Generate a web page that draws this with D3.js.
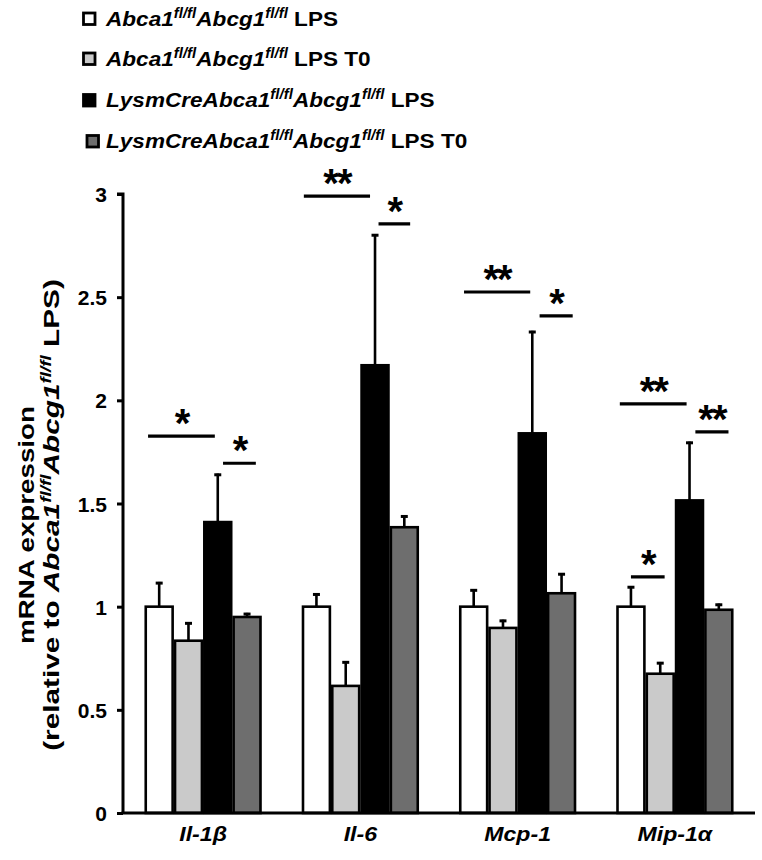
<!DOCTYPE html>
<html><head><meta charset="utf-8">
<script src="https://cdn.jsdelivr.net/npm/d3@7"></script>
<style>body{margin:0;background:#fff}svg{display:block;font-family:"Liberation Sans",Arial,sans-serif}</style>
</head><body><svg id="c" width="762" height="860"></svg>
<script>
const categories = ["Il-1β", "Il-6", "Mcp-1", "Mip-1α"];
const seriesKeys = ["wtLPS", "wtLPST0", "koLPS", "koLPST0"];
const seriesFills = ["#ffffff", "#cacaca", "#000000", "#6e6e6e"];
const wtLPS = [1.0, 1.0, 1.0, 1.0];
const wtLPST0 = [0.835, 0.616, 0.897, 0.675];
const koLPS = [1.41, 2.17, 1.84, 1.515];
const koLPST0 = [0.95, 1.385, 1.065, 0.985];
const wtLPSErr = [0.12, 0.065, 0.085, 0.10];
const wtLPST0Err = [0.09, 0.12, 0.04, 0.057];
const koLPSErr = [0.235, 0.636, 0.497, 0.285];
const koLPST0Err = [0.02, 0.058, 0.098, 0.03];
const yTicks = [0, 0.5, 1, 1.5, 2, 2.5, 3];
const yTickLabels = ["0", "0.5", "1", "1.5", "2", "2.5", "3"];
// significance annotations: category, from/to in bar-index units, y value, label
const sigCat = [0, 0, 1, 1, 2, 2, 3, 3, 3];
const sigFrom = [0.12, 2.68, 0.07, 2.62, 0.17, 2.75, 0.12, 2.7, 0.5];
const sigTo = [2.4, 3.8, 2.33, 3.7, 2.43, 3.88, 2.4, 3.83, 1.65];
const sigY = [1.827, 1.695, 2.99, 2.855, 2.525, 2.409, 1.983, 1.847, 1.144];
const sigLabel = ["*", "*", "**", "*", "**", "*", "**", "**", "*"];
const legendPrefix = ["", "", "LysmCre", "LysmCre"];
const legendSuffix = [" LPS", " LPS T0", " LPS", " LPS T0"];

const values = [wtLPS, wtLPST0, koLPS, koLPST0];
const errors = [wtLPSErr, wtLPST0Err, koLPSErr, koLPST0Err];

const svg = d3.select("#c");
const x0 = d3.scaleBand().domain(categories).range([123, 755]).paddingInner(0.255).paddingOuter(0.137);
const x1 = d3.scaleBand().domain(d3.range(4)).range([0, x0.bandwidth()]).padding(0);
const y = d3.scaleLinear().domain([0, 3]).range([813, 194]);

// bars
const data = [];
categories.forEach((c, ci) => seriesKeys.forEach((k, si) => data.push({c, ci, si, v: values[si][ci], e: errors[si][ci]})));
const g = svg.append("g");
g.selectAll("rect.bar").data(data).enter().append("rect")
  .attr("x", d => x0(d.c) + x1(d.si) + 1.2)
  .attr("y", d => y(d.v))
  .attr("width", x1.bandwidth() - 2.4)
  .attr("height", d => y(0) - y(d.v))
  .attr("fill", d => seriesFills[d.si])
  .attr("stroke", "#000").attr("stroke-width", 2.6);
// error bars
g.selectAll("line.err").data(data).enter().append("line")
  .attr("x1", d => x0(d.c) + x1(d.si) + x1.bandwidth() / 2)
  .attr("x2", d => x0(d.c) + x1(d.si) + x1.bandwidth() / 2)
  .attr("y1", d => y(d.v)).attr("y2", d => y(d.v + d.e))
  .attr("stroke", "#000").attr("stroke-width", 2.6);
g.selectAll("line.cap").data(data).enter().append("line")
  .attr("x1", d => x0(d.c) + x1(d.si) + x1.bandwidth() / 2 - 3.5)
  .attr("x2", d => x0(d.c) + x1(d.si) + x1.bandwidth() / 2 + 3.5)
  .attr("y1", d => y(d.v + d.e) + 1.2).attr("y2", d => y(d.v + d.e) + 1.2)
  .attr("stroke", "#000").attr("stroke-width", 3);

// axes
const yAxis = d3.axisLeft(y).tickValues(yTicks).tickFormat((d, i) => yTickLabels[i]).tickSize(6).tickPadding(10);
const ya = svg.append("g").attr("transform", "translate(123,0)").call(yAxis);
ya.attr("font-size", 21).attr("font-family", "Liberation Sans, Arial, sans-serif");
ya.select(".domain").attr("stroke-width", 3).attr("d", `M-6,${y(3)}H0V${y(0)}`);
ya.selectAll(".tick line").attr("stroke-width", 3);
ya.selectAll("text").attr("font-size", 21).attr("font-weight", "bold").attr("fill", "#000").attr("dy", "0.36em");
svg.append("line").attr("x1", 121.5).attr("x2", 755).attr("y1", y(0)).attr("y2", y(0)).attr("stroke", "#000").attr("stroke-width", 3);

// x labels
svg.selectAll("text.xl").data(categories).enter().append("text")
  .attr("transform", d => `translate(${x0(d) + x0.bandwidth() / 2},841) scale(1.1,1)`)
  .attr("text-anchor", "middle").attr("font-size", 21).attr("font-weight", "bold").attr("font-style", "italic")
  .text(d => d);

// significance
const sig = sigCat.map((c, i) => ({c, f: sigFrom[i], t: sigTo[i], v: sigY[i], l: sigLabel[i]}));
const bw = x1.bandwidth();
svg.selectAll("line.sig").data(sig).enter().append("line")
  .attr("x1", d => x0(categories[d.c]) + d.f * bw).attr("x2", d => x0(categories[d.c]) + d.t * bw)
  .attr("y1", d => y(d.v)).attr("y2", d => y(d.v)).attr("stroke", "#000").attr("stroke-width", 3.2);
svg.selectAll("text.sig").data(sig).enter().append("text")
  .attr("x", d => x0(categories[d.c]) + (d.f + d.t) / 2 * bw).attr("y", d => y(d.v) + 1)
  .attr("text-anchor", "middle").attr("font-size", 40).attr("font-weight", "bold").attr("letter-spacing", -2)
  .text(d => d.l);

// legend
const legY = [25.5, 65.5, 107, 148];
const legX = [83.5, 83.5, 83.5, 87];
const legScale = 1.075;
legendPrefix.forEach((pre, i) => {
  svg.append("rect").attr("x", legX[i]).attr("y", legY[i] - 12.5).attr("width", 11.5).attr("height", 11.5)
    .attr("fill", seriesFills[i]).attr("stroke", "#000").attr("stroke-width", 2.8);
  const t = svg.append("text").attr("transform", `translate(106,${legY[i]}) scale(${legScale},1)`)
    .attr("font-size", 21).attr("font-weight", "bold");
  t.append("tspan").attr("font-style", "italic").text(pre + "Abca1");
  t.append("tspan").attr("font-style", "italic").attr("font-size", 14).attr("dy", -8).text("fl/fl");
  t.append("tspan").attr("font-style", "italic").attr("dy", 8).text("Abcg1");
  t.append("tspan").attr("font-style", "italic").attr("font-size", 14).attr("dy", -8).text("fl/fl");
  t.append("tspan").attr("dy", 8).text(legendSuffix[i]);
});

// y title (rotated, stretched along its length)
function fitText(node, target) {
  const len = node.getComputedTextLength();
  return target / len;
}
const t1 = svg.append("text").attr("font-size", 22).attr("font-weight", "bold").attr("text-anchor", "middle").text("mRNA expression");
const s1 = fitText(t1.node(), 238);
t1.attr("transform", `translate(34,525) rotate(-90) scale(${s1},1)`);
const t2 = svg.append("text").attr("font-size", 22).attr("font-weight", "bold").attr("text-anchor", "middle");
t2.append("tspan").text("(relative to ");
t2.append("tspan").attr("font-style", "italic").text("Abca1");
t2.append("tspan").attr("font-style", "italic").attr("font-size", 14).attr("dy", -8).text("fl/fl");
t2.append("tspan").attr("font-style", "italic").attr("dy", 8).text("Abcg1");
t2.append("tspan").attr("font-style", "italic").attr("font-size", 14).attr("dy", -8).text("fl/fl");
t2.append("tspan").attr("dy", 8).text(" LPS)");
const s2 = fitText(t2.node(), 472);
t2.attr("transform", `translate(59,515) rotate(-90) scale(${s2},1)`);
</script></body></html>
